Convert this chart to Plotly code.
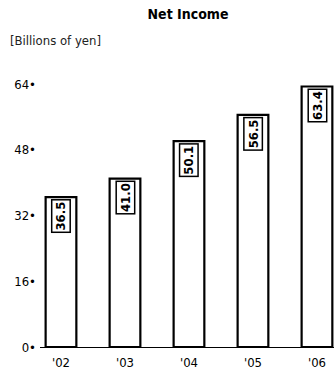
import plotly.graph_objects as go

years = ["'02", "'03", "'04", "'05", "'06"]
values = [36.5, 41.0, 50.1, 56.5, 63.4]
labels = ["36.5", "41.0", "50.1", "56.5", "63.4"]
yticks = [0, 16, 32, 48, 64]
ytick_text = ["0•", "16•", "32•", "48•", "64•"]

font_family = "DejaVu Sans Condensed, Liberation Sans Narrow, Liberation Sans, sans-serif"
xs = list(range(len(years)))

W, H = 334, 370
ML, MR, MT, MB = 40, 0, 82, 23
plot_w = W - ML - MR
plot_h = H - MT - MB

fig = go.Figure()
fig.add_trace(go.Bar(
    x=xs, y=values, width=0.48,
    marker=dict(color="white", line=dict(color="black", width=2.2)),
    hoverinfo="skip",
))

for xi, v, t in zip(xs, values, labels):
    fig.add_annotation(
        x=xi, y=v, xref="x", yref="y", text="<b>" + t + "</b>",
        textangle=-90, showarrow=False, yanchor="top", xanchor="center",
        yshift=-2,
        font=dict(family=font_family, size=13, color="black"),
        bordercolor="black", borderwidth=1.5, borderpad=1, bgcolor="white",
    )

fig.add_annotation(
    x=(8 - ML) / plot_w, y=(H - MB - 40) / plot_h, xref="paper", yref="paper",
    text="[Billions of yen]", showarrow=False, xanchor="left", yanchor="middle",
    font=dict(family=font_family, size=13, color="#222"),
)

fig.update_layout(
    width=W, height=H,
    margin=dict(l=ML, r=MR, t=MT, b=MB),
    paper_bgcolor="white", plot_bgcolor="white",
    showlegend=False,
    font=dict(family=font_family, size=13, color="black"),
    title=dict(text="<b>Net Income</b>", x=0.563, xanchor="center", y=0.963, yanchor="middle",
               font=dict(family=font_family, size=14, color="black")),
    xaxis=dict(
        range=[-0.328, 4.266], tickvals=xs, ticktext=years,
        showgrid=False, zeroline=False, showline=True, linecolor="black", linewidth=1,
        ticks="", tickfont=dict(size=13, family=font_family), ticklabelstandoff=3,
        fixedrange=True,
    ),
    yaxis=dict(
        range=[0, 64.5], tickvals=yticks, ticktext=ytick_text,
        showgrid=False, zeroline=False, showline=False, ticks="",
        tickfont=dict(size=13, family=font_family), ticklabelstandoff=3, fixedrange=True,
    ),
)
fig.write_html("out.html")
